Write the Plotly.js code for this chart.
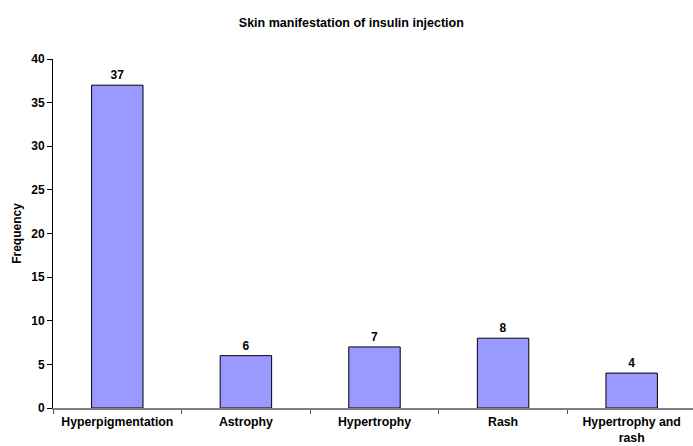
<!DOCTYPE html>
<html>
<head>
<meta charset="utf-8">
<script src="https://cdn.plot.ly/plotly-3.0.1.min.js"></script>
<style>html,body{margin:0;padding:0;background:#fff;}#chart{width:693px;height:446px;}</style>
</head>
<body>
<div id="chart"></div>
<script>
var categories = ["Hyperpigmentation", "Astrophy", "Hypertrophy", "Rash", "Hypertrophy and<br>rash"];
var frequency = [37, 6, 7, 8, 4];
var yTicks = [0, 5, 10, 15, 20, 25, 30, 35, 40];

var font = {family: "Liberation Sans, Arial, sans-serif", size: 12, color: "#000"};

Plotly.newPlot("chart", [{
  type: "bar",
  x: categories,
  y: frequency,
  width: 0.4,
  marker: {color: "#9999FF", line: {color: "#000", width: 1}},
  text: frequency.map(String),
  textposition: "outside",
  cliponaxis: false,
  textfont: {family: font.family, size: 12, color: "#000", weight: "bold"},
  hoverinfo: "none"
}], {
  width: 693, height: 446,
  margin: {l: 53, r: 0, t: 59, b: 38},
  paper_bgcolor: "#fff", plot_bgcolor: "#fff",
  showlegend: false,
  title: {text: "<b>Skin manifestation of insulin injection</b>", font: {family: font.family, size: 12.5, color: "#000"}, x: 0.507, xanchor: "center", y: 0.95, yanchor: "middle"},
  xaxis: {
    type: "category",
    range: [-0.5, 4.477],
    showline: true, linecolor: "#808080", linewidth: 2,
    ticks: "outside", tickson: "boundaries", ticklen: 4, tickcolor: "#555", tickwidth: 1,
    ticklabelstandoff: 1,
    tickfont: {family: font.family, size: 12.3, color: "#000", weight: "bold"},
    showgrid: false, zeroline: false, fixedrange: true
  },
  yaxis: {
    range: [0, 40],
    tickvals: yTicks,
    showline: true, linecolor: "#000", linewidth: 1,
    ticks: "outside", ticklen: 5, tickcolor: "#000",
    tickfont: {family: font.family, size: 12, color: "#000", weight: "bold"},
    title: {text: "<b>Frequency</b>", font: {family: font.family, size: 12, color: "#000"}, standoff: 7},
    showgrid: false, zeroline: false, fixedrange: true
  }
}, {displayModeBar: false, staticPlot: true});
</script>
</body>
</html>
